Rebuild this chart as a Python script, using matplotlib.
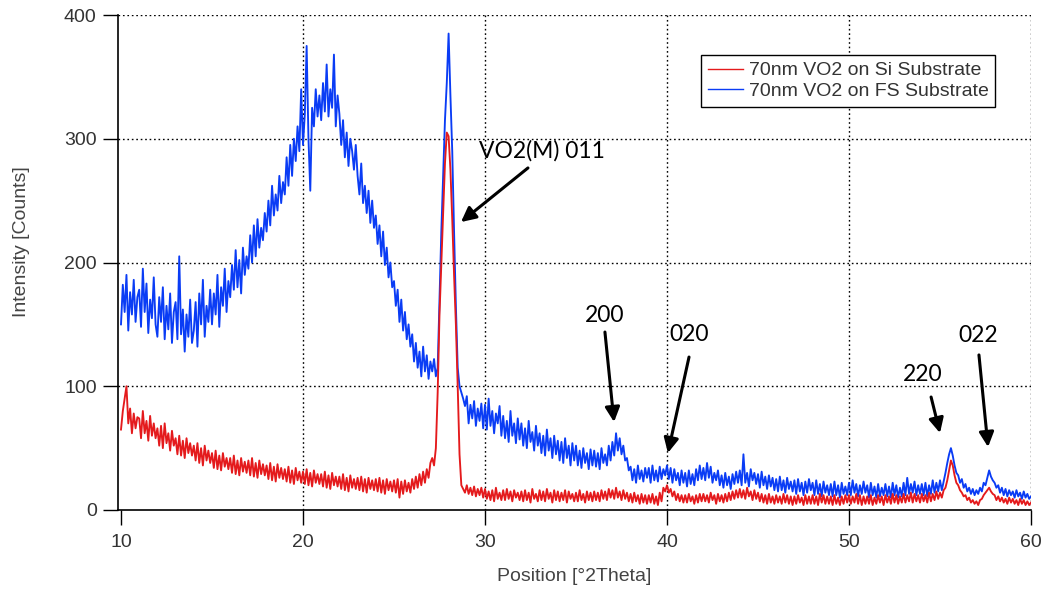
import numpy as np
import matplotlib
matplotlib.use("Agg")
import matplotlib.pyplot as plt

# ---------------- data (0.1 deg steps) ----------------
two_theta = np.linspace(10.0, 60.0, 501)

fs_counts = [
    150, 182, 160, 190, 145, 176, 158, 186, 152, 172,   # 10
    178, 148, 195, 160, 183, 143, 170, 155, 188, 150,   # 11
    140, 172, 152, 180, 138, 165, 146, 175, 135, 160,   # 12
    168, 138, 205, 142, 162, 128, 158, 140, 170, 135,   # 13
    145, 168, 132, 175, 150, 186, 140, 165, 152, 178,   # 14
    150, 175, 158, 190, 148, 180, 165, 195, 160, 185,   # 15
    172, 198, 178, 210, 180, 202, 175, 212, 190, 205,   # 16
    195, 222, 200, 230, 205, 235, 212, 228, 218, 240,   # 17
    225, 250, 230, 262, 238, 255, 242, 270, 248, 265,   # 18
    255, 285, 262, 295, 270, 300, 282, 310, 290, 340,   # 19
    295, 320, 375, 300, 258, 325, 310, 340, 318, 335,   # 20
    315, 345, 322, 360, 318, 340, 325, 368, 310, 335,   # 21
    320, 295, 315, 285, 305, 278, 300, 290, 275, 295,   # 22
    270, 255, 280, 248, 262, 240, 258, 232, 250, 228,   # 23
    238, 215, 230, 205, 225, 198, 212, 188, 200, 180,   # 24
    185, 165, 178, 152, 170, 145, 160, 138, 150, 132,   # 25
    142, 120, 135, 115, 128, 108, 132, 112, 125, 106,   # 26
    120, 112, 122, 108, 115, 170, 225, 270, 315, 345,   # 27
    385, 335, 290, 225, 165, 115, 100, 95, 90, 84,      # 28
    92, 70, 85, 74, 88, 68, 82, 72, 86, 66,             # 29
    85, 65, 90, 68, 80, 62, 78, 70, 84, 60,             # 30
    76, 58, 72, 55, 80, 60, 70, 54, 74, 57,             # 31
    70, 52, 66, 50, 72, 55, 63, 48, 68, 52,             # 32
    62, 46, 60, 44, 65, 48, 58, 42, 60, 45,             # 33
    56, 40, 55, 38, 58, 42, 52, 36, 54, 40,             # 34
    52, 36, 48, 34, 50, 38, 46, 33, 49, 36,             # 35
    48, 35, 46, 33, 50, 38, 45, 36, 52, 40,             # 36
    55, 44, 62, 48, 58, 45, 52, 40, 42, 32,             # 37
    35, 24, 33, 22, 36, 25, 32, 23, 34, 26,             # 38
    34, 22, 36, 24, 32, 23, 35, 25, 33, 28,             # 39
    36, 25, 34, 22, 33, 24, 30, 20, 32, 22,             # 40
    30, 19, 32, 21, 29, 20, 33, 24, 36, 25,             # 41
    34, 24, 38, 26, 35, 22, 30, 24, 32, 20,             # 42
    28, 18, 30, 20, 27, 17, 29, 21, 31, 22,             # 43
    32, 20, 45, 22, 30, 19, 33, 24, 30, 21,             # 44
    29, 18, 31, 20, 27, 17, 28, 19, 26, 16,             # 45
    25, 15, 27, 16, 24, 14, 26, 17, 23, 15,             # 46
    24, 13, 25, 15, 22, 12, 23, 14, 25, 16,             # 47
    22, 12, 24, 13, 21, 11, 23, 14, 20, 12,             # 48
    21, 11, 23, 12, 20, 10, 22, 13, 19, 12,             # 49
    22, 12, 24, 14, 21, 11, 20, 13, 23, 14,             # 50
    20, 10, 22, 12, 19, 10, 21, 11, 18, 12,             # 51
    21, 11, 19, 10, 22, 12, 20, 10, 18, 11,             # 52
    22, 12, 26, 13, 21, 14, 23, 12, 20, 13,             # 53
    21, 12, 22, 11, 20, 13, 24, 14, 22, 15,             # 54
    24, 16, 23, 30, 38, 45, 50, 44, 36, 30,             # 55
    28, 22, 25, 18, 21, 15, 18, 13, 17, 12,             # 56
    16, 13, 18, 15, 22, 20, 26, 32, 27, 24,             # 57
    22, 18, 20, 14, 18, 12, 17, 11, 16, 12,             # 58
    15, 10, 16, 11, 14, 9, 15, 10, 13, 9,               # 59
    11,                                                 # 60
]

si_counts = [
    65, 80, 90, 100, 70, 82, 62, 78, 66, 75,            # 10
    74, 58, 80, 62, 72, 56, 76, 60, 70, 58,             # 11
    66, 52, 68, 50, 70, 54, 62, 48, 64, 52,             # 12
    58, 45, 60, 44, 56, 42, 58, 46, 54, 44,             # 13
    52, 40, 54, 38, 50, 36, 52, 40, 48, 38,             # 14
    46, 34, 48, 33, 44, 32, 46, 35, 42, 33,             # 15
    42, 30, 44, 29, 40, 28, 42, 31, 39, 30,             # 16
    40, 28, 42, 27, 38, 26, 40, 29, 37, 28,             # 17
    36, 25, 38, 24, 35, 23, 37, 26, 34, 25,             # 18
    33, 23, 35, 22, 32, 21, 34, 24, 31, 22,             # 19
    31, 21, 33, 20, 30, 19, 32, 22, 29, 21,             # 20
    29, 19, 31, 18, 28, 17, 30, 20, 27, 19,             # 21
    27, 17, 29, 16, 26, 15, 28, 18, 25, 17,             # 22
    26, 16, 27, 15, 25, 14, 26, 17, 24, 16,             # 23
    25, 15, 26, 14, 24, 13, 25, 16, 23, 15,             # 24
    24, 14, 25, 10, 23, 13, 24, 15, 22, 14,             # 25
    25, 17, 27, 18, 29, 20, 31, 22, 33, 26,             # 26
    38, 42, 36, 50, 95, 158, 200, 240, 280, 305,        # 27
    302, 275, 235, 190, 150, 100, 45, 20, 17, 14,       # 28
    20, 13, 18, 12, 19, 11, 17, 12, 18, 10,             # 29
    17, 9, 15, 8, 16, 7, 18, 9, 14, 8,                  # 30
    16, 8, 17, 9, 15, 7, 16, 10, 14, 8,                 # 31
    15, 7, 16, 8, 14, 6, 17, 9, 13, 7,                  # 32
    16, 8, 15, 7, 17, 9, 14, 6, 16, 8,                  # 33
    15, 7, 14, 8, 16, 6, 15, 9, 13, 7,                  # 34
    14, 7, 16, 8, 13, 6, 15, 8, 14, 7,                  # 35
    15, 8, 14, 7, 16, 9, 15, 8, 17, 10,                 # 36
    16, 9, 18, 10, 15, 8, 16, 9, 14, 7,                 # 37
    13, 6, 14, 7, 12, 5, 13, 6, 12, 5,                  # 38
    12, 6, 13, 5, 11, 4, 14, 7, 18, 15,                 # 39
    20, 14, 17, 11, 15, 8, 13, 7, 12, 6,                # 40
    12, 6, 13, 7, 11, 5, 12, 6, 13, 7,                  # 41
    13, 7, 12, 6, 14, 8, 12, 5, 13, 7,                  # 42
    12, 6, 13, 7, 14, 8, 15, 9, 16, 10,                 # 43
    17, 10, 16, 9, 18, 11, 15, 8, 16, 9,                # 44
    14, 7, 13, 6, 12, 5, 13, 6, 11, 5,                  # 45
    12, 6, 11, 5, 13, 6, 12, 5, 11, 4,                  # 46
    11, 5, 12, 6, 10, 4, 12, 5, 11, 5,                  # 47
    12, 5, 11, 4, 13, 6, 12, 5, 11, 5,                  # 48
    11, 4, 12, 5, 10, 4, 11, 5, 12, 6,                  # 49
    12, 5, 11, 6, 13, 5, 12, 4, 11, 5,                  # 50
    11, 5, 12, 4, 10, 5, 12, 6, 11, 4,                  # 51
    12, 6, 11, 5, 13, 6, 12, 5, 11, 6,                  # 52
    13, 6, 12, 7, 14, 6, 13, 7, 12, 6,                  # 53
    13, 7, 12, 6, 14, 7, 13, 8, 15, 9,                  # 54
    14, 10, 16, 18, 24, 32, 40, 36, 28, 22,             # 55
    20, 16, 14, 11, 12, 8, 10, 6, 8, 5,                 # 56
    7, 4, 8, 9, 12, 14, 16, 18, 15, 13,                 # 57
    12, 8, 11, 7, 10, 6, 9, 5, 10, 6,                   # 58
    9, 5, 8, 4, 9, 5, 8, 4, 7, 4,                       # 59
    6,                                                  # 60
]

series_labels = ["70nm VO2 on Si Substrate", "70nm VO2 on FS Substrate"]
x_ticks = [10, 20, 30, 40, 50, 60]
y_ticks = [0, 100, 200, 300, 400]

# annotations: (text, text position, arrow start, arrow tip) in data units
ann_labels = ["VO2(M) 011", "200", "020", "220", "022"]
ann_text_xy = [(33.13, 290.0), (36.59, 156.8), (41.21, 141.8), (54.04, 109.5), (57.09, 141.0)]
ann_from_xy = [(32.36, 276.4), (36.59, 143.8), (41.21, 123.6), (54.51, 91.3), (57.14, 125.3)]
ann_to_xy = [(28.68, 232.7), (37.09, 71.1), (40.05, 46.1), (55.00, 62.2), (57.64, 50.9)]

# ---------------- figure ----------------
plt.rcParams['font.family'] = ['Liberation Sans', 'DejaVu Sans']
W, H = 1046, 594
fig = plt.figure(figsize=(W / 100, H / 100), dpi=100)
ax = fig.add_axes([118 / W, 1 - 510 / H, (1031 - 118) / W, (510 - 15) / H])

RED = '#e41a1c'
BLUE = '#0a3cf5'

l_fs, = ax.plot(two_theta, fs_counts, color=BLUE, lw=1.35, zorder=3)
l_si, = ax.plot(two_theta, si_counts, color=RED, lw=1.35, zorder=4)

ax.set_xlim(10 - 3 / 18.2, 60)
ax.set_ylim(0, 400)
ax.set_xticks(x_ticks)
ax.set_yticks(y_ticks)

for s in ['top', 'right']:
    ax.spines[s].set_visible(False)
for s in ['left', 'bottom']:
    ax.spines[s].set_linewidth(1.2)
    ax.spines[s].set_color('black')

ax.grid(True, color='black', linestyle=(0, (1.2, 2.0)), linewidth=1.0, zorder=1)
ax.set_axisbelow(True)
ax.get_xgridlines()[0].set_visible(False)
ax.get_ygridlines()[0].set_visible(False)

ax.tick_params(axis='both', direction='out', length=11, width=1.0, color='black',
               labelsize=14, labelcolor='#333333')
ax.tick_params(axis='x', pad=6)
ax.tick_params(axis='y', pad=4.3)

ax.set_xlabel('Position [°2Theta]', fontsize=14, color='#444444')
ax.set_ylabel('Intensity [Counts]', fontsize=14, color='#444444')
ax.xaxis.set_label_coords(0.5, (510 - 568) / 495)
ax.yaxis.set_label_coords((30 - 118) / 913, (510 - 242) / 495)

leg = ax.legend([l_si, l_fs], series_labels, loc='upper left',
                bbox_to_anchor=(701 / W, 1 - 55 / H), bbox_transform=fig.transFigure,
                borderaxespad=0, fontsize=14, frameon=True, fancybox=False,
                edgecolor='black', handlelength=1.8, handletextpad=0.3,
                borderpad=0.35, labelspacing=0.15, framealpha=1)
leg.get_frame().set_linewidth(1.0)
for t in leg.get_texts():
    t.set_color('#333333')
for h in leg.legend_handles:
    h.set_linewidth(1.0)

for lab, txy, fxy, oxy in zip(ann_labels, ann_text_xy, ann_from_xy, ann_to_xy):
    ax.text(txy[0], txy[1], lab, ha='center', va='center', fontsize=16.5,
            family=['Lato', 'DejaVu Sans'], color='black', zorder=6)
    ax.annotate('', xy=oxy, xytext=fxy,
                arrowprops=dict(arrowstyle='-|>', color='black', lw=2.2,
                                mutation_scale=22, shrinkA=0, shrinkB=0),
                zorder=6)

fig.savefig('out.png', dpi=100)
